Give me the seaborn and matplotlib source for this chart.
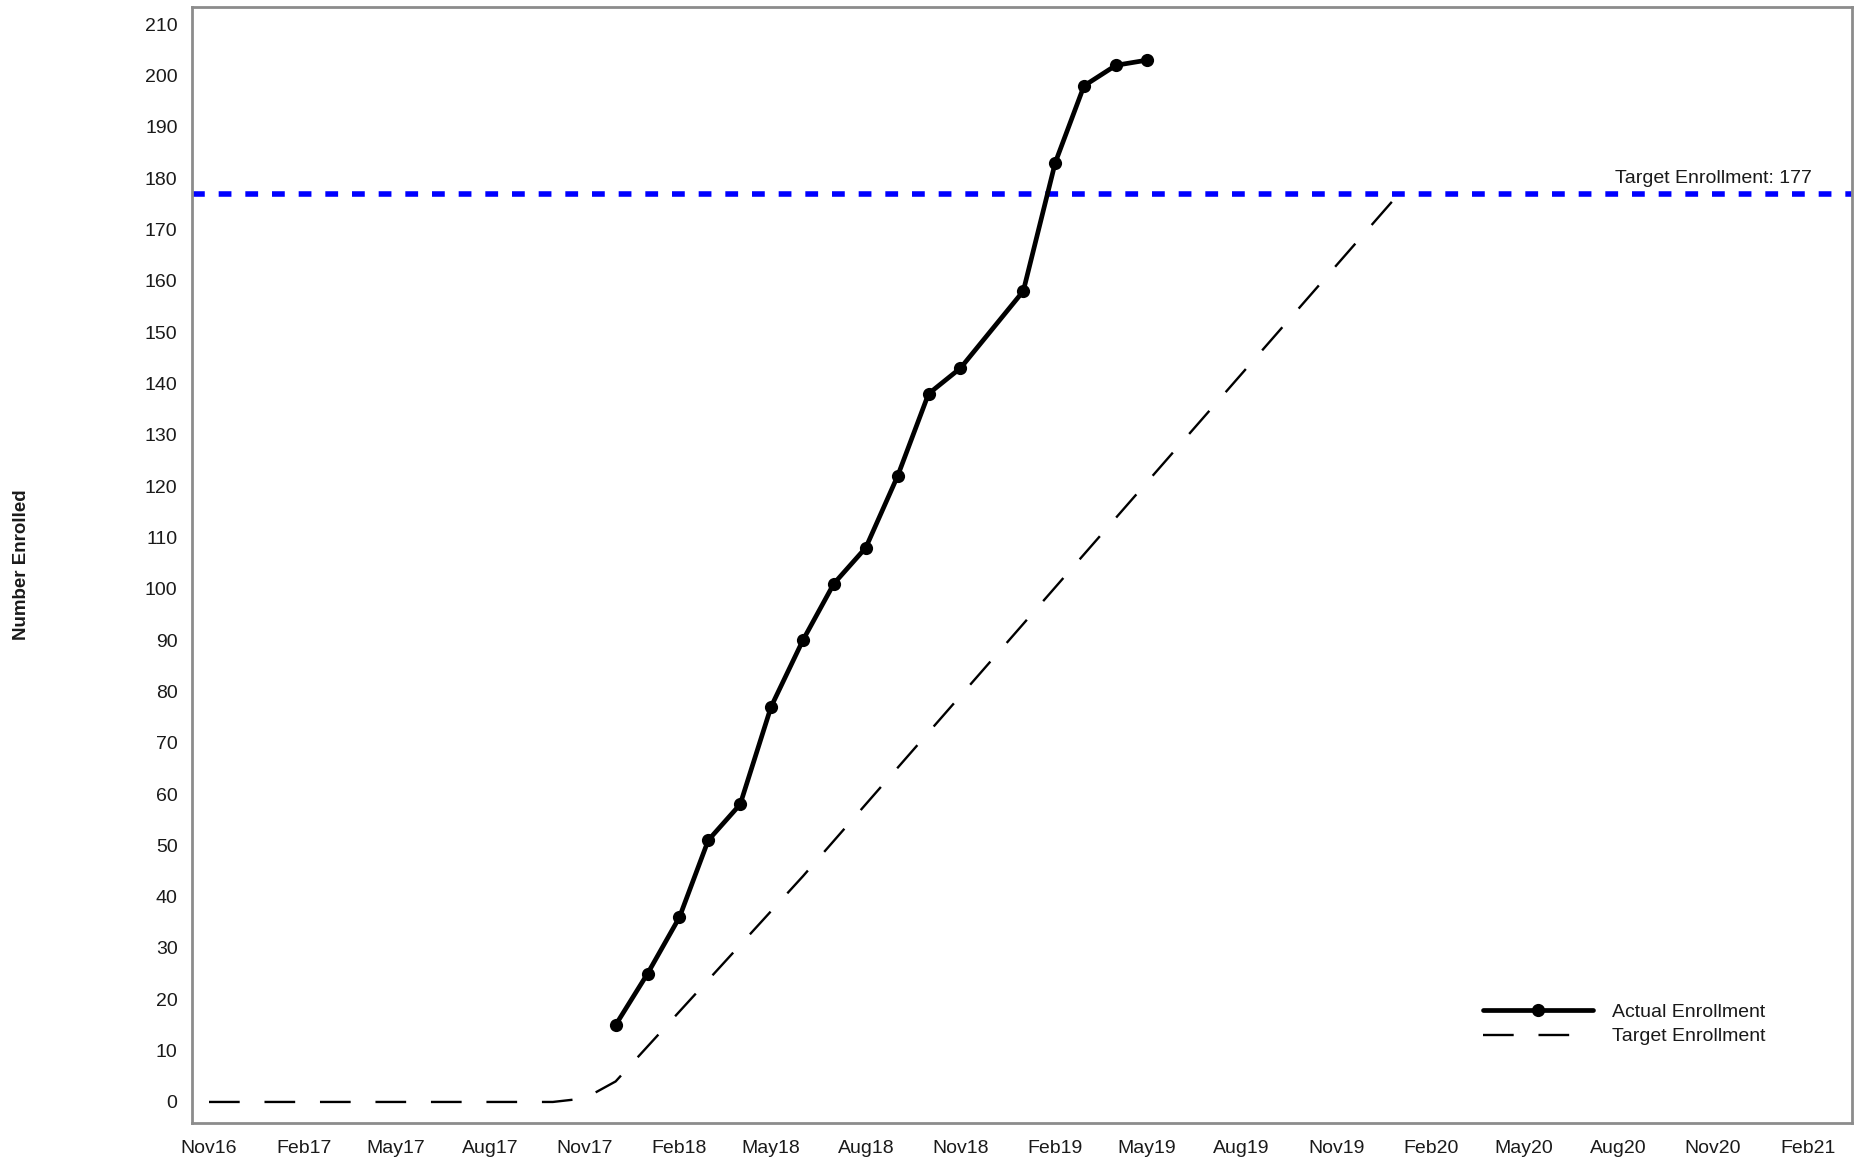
import matplotlib
matplotlib.use('Agg')
import matplotlib.pyplot as plt
import matplotlib.dates as mdates
import matplotlib.transforms as mtrans
from matplotlib import font_manager
import seaborn as sns
import pandas as pd

# ---------------- data ----------------
actual_dates = ['2017-12-01', '2018-01-01', '2018-02-01', '2018-03-01', '2018-04-01',
                '2018-05-01', '2018-06-01', '2018-07-01', '2018-08-01', '2018-09-01',
                '2018-10-01', '2018-11-01', '2019-01-01', '2019-02-01', '2019-03-01',
                '2019-04-01', '2019-05-01']
actual_values = [15, 25, 36, 51, 58, 77, 90, 101, 108, 122, 138, 143, 158, 183, 198, 202, 203]

target_dates = ['2016-11-01', '2017-10-01', '2017-11-01', '2017-12-01', '2018-06-01', '2020-01-01']
target_values = [0, 0, 0.7, 4, 44, 177]

target_total = 177
y_ticks = list(range(0, 211, 10))
x_tick_dates = pd.date_range('2016-11-01', '2021-02-01', freq='3MS')

actual_df = pd.DataFrame({'date': pd.to_datetime(actual_dates), 'enrolled': actual_values})
target_df = pd.DataFrame({'date': pd.to_datetime(target_dates), 'enrolled': target_values})

# ---------------- style ----------------
sns.set_theme(style='white')
names = {f.name for f in font_manager.fontManager.ttflist}
narrow = 'Liberation Sans Narrow' if 'Liberation Sans Narrow' in names else 'Liberation Sans'
plt.rcParams['font.family'] = ['Liberation Sans', 'DejaVu Sans']

W, H = 1855, 1158
top_px, bot_px = 7.3, 1123
fig = plt.figure(figsize=(W / 100, H / 100), dpi=100)
ax = fig.add_axes([191.5 / W, 1 - bot_px / H, (1852 - 191.5) / W, (bot_px - top_px) / H])

sns.lineplot(data=target_df, x='date', y='enrolled', ax=ax, color='black', lw=1.7,
             linestyle=(0, (13, 10.5)), label='Target Enrollment', zorder=3)
sns.lineplot(data=actual_df, x='date', y='enrolled', ax=ax, color='black', lw=3.4,
             marker='o', markersize=9.5, markeredgewidth=0, label='Actual Enrollment', zorder=4)

ax.axhline(target_total, color='#0000ff', lw=4, linestyle=(0, (2.3, 2.5)), zorder=2)
ax.text(0.976, target_total + 2.1, f'Target Enrollment: {target_total}',
        transform=mtrans.blended_transform_factory(ax.transAxes, ax.transData),
        ha='right', va='baseline', fontsize=14, color='#1a1a1a')

ax.set_xlim(pd.Timestamp('2016-10-15'), pd.Timestamp('2021-03-16'))
ax.set_ylim(-4.1, 213.3)
ax.set_yticks(y_ticks)
ax.set_xticks(x_tick_dates)
ax.xaxis.set_major_formatter(mdates.DateFormatter('%b%y'))

for sp in ax.spines.values():
    sp.set_visible(True)
    sp.set_color('#8c8c8c')
    sp.set_linewidth(2)

ax.tick_params(axis='both', which='major', direction='out', length=6, width=1.5,
               color='#8c8c8c', labelsize=14, labelcolor='#1a1a1a')
ax.tick_params(axis='x', pad=6)
ax.tick_params(axis='y', pad=4)
for lab in ax.get_xticklabels() + ax.get_yticklabels():
    lab.set_family([narrow, 'DejaVu Sans'])

ax.set_xlabel('')
ax.set_ylabel('Number Enrolled', fontsize=13.5, fontweight='bold', color='#1a1a1a')
ax.yaxis.set_label_coords(-0.097, 0.5)

handles, labels = ax.get_legend_handles_labels()
order = [labels.index('Actual Enrollment'), labels.index('Target Enrollment')]
leg = ax.legend([handles[i] for i in order], [labels[i] for i in order],
                loc='center left', bbox_to_anchor=(1483 / W, 1 - 1024.5 / H),
                bbox_transform=fig.transFigure, frameon=False, fontsize=14,
                handlelength=5.65, handletextpad=1.0, labelspacing=0.33,
                borderpad=0, borderaxespad=0)
for t in leg.get_texts():
    t.set_color('#1a1a1a')

fig.savefig('out.png', dpi=100)
